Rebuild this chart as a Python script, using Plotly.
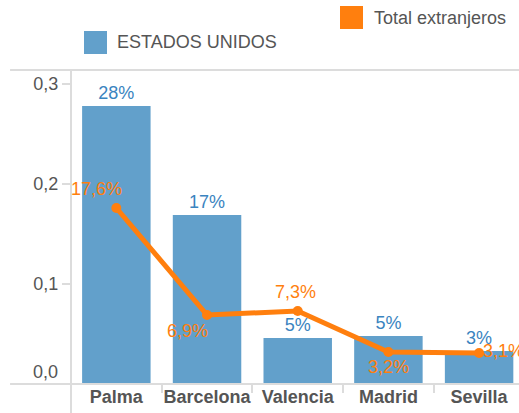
import plotly.graph_objects as go

cities = ["Palma", "Barcelona", "Valencia", "Madrid", "Sevilla"]
usa_share = [0.278, 0.169, 0.046, 0.048, 0.033]
foreign_total = [0.176, 0.069, 0.073, 0.032, 0.031]
y_ticks = [0.1, 0.2, 0.3]
y_zero_label = "0,0"

BLUE = "#62a0cb"
BLUE_TXT = "#3a84c0"
ORANGE = "#ff7f0e"
GREY = "#dcdcdc"
TXT = "#555555"
FONT = "Liberation Sans, Arial, sans-serif"
FS = 18

# pixel offsets of the line value labels relative to their points (style only)
line_label_shift = [(-20, 19), (-20, -16), (-2, 19), (0, -15), (24, 2)]

fig = go.Figure()
fig.add_trace(go.Bar(
    x=cities, y=usa_share, name="ESTADOS UNIDOS",
    marker=dict(color=BLUE, line=dict(width=0)),
    texttemplate="%{y:.0%}", textposition="outside",
    textfont=dict(color=BLUE_TXT, size=FS, family=FONT),
    cliponaxis=False,
))
fig.add_trace(go.Scatter(
    x=cities, y=foreign_total, name="Total extranjeros",
    mode="lines+markers",
    line=dict(color=ORANGE, width=5),
    marker=dict(color=ORANGE, size=10),
    cliponaxis=False,
))

annotations = []
for c, v, (dx, dy) in zip(cities, foreign_total, line_label_shift):
    annotations.append(dict(
        x=c, y=v, xref="x", yref="y", text=f"{v * 100:.1f}%".replace(".", ","),
        showarrow=False, xanchor="center", yanchor="middle", xshift=dx, yshift=dy,
        font=dict(size=FS, color=ORANGE, family=FONT),
    ))

# legend drawn as squares + text
legend_items = [
    dict(x0=0.6004, x1=0.6518, y0=1.1306, y1=1.2038, color=ORANGE, tx=0.672, ty=1.1656, text="Total extranjeros"),
    dict(x0=0.029, x1=0.0804, y0=1.051, y1=1.1242, color=BLUE, tx=0.0982, ty=1.0892, text="ESTADOS UNIDOS"),
]
shapes = []
for it in legend_items:
    shapes.append(dict(type="rect", xref="paper", yref="paper", x0=it["x0"], x1=it["x1"],
                       y0=it["y0"], y1=it["y1"], fillcolor=it["color"], line=dict(width=0)))
    annotations.append(dict(xref="paper", yref="paper", x=it["tx"], y=it["ty"], xanchor="left",
                            yanchor="middle", text=it["text"], showarrow=False,
                            font=dict(size=FS, color=TXT, family=FONT)))

# zero label sits just above the baseline
annotations.append(dict(xref="paper", yref="y", x=0, y=0, xanchor="right", yanchor="middle",
                        xshift=-11, yshift=12, text=y_zero_label, showarrow=False,
                        font=dict(size=FS, color=TXT, family=FONT)))

# frame lines
shapes += [
    dict(type="line", xref="paper", yref="paper", x0=-0.136, x1=1, y0=1, y1=1, line=dict(color=GREY, width=2)),
    dict(type="line", xref="paper", yref="paper", x0=-0.136, x1=1, y0=0, y1=0, line=dict(color=GREY, width=2)),
    dict(type="line", xref="paper", yref="paper", x0=0, x1=0, y0=-0.095, y1=1, line=dict(color=GREY, width=2)),
]

fig.update_layout(
    width=519, height=413,
    margin=dict(l=71, r=0, t=70, b=29),
    paper_bgcolor="white", plot_bgcolor="white",
    separators=",.",
    showlegend=False,
    bargap=0.245,
    font=dict(family=FONT, size=FS, color=TXT),
    shapes=shapes, annotations=annotations,
)
fig.update_xaxes(
    range=[-0.5, 4.44], showgrid=False, zeroline=False, showline=False,
    ticks="outside", tickson="boundaries", ticklen=8, tickcolor=GREY, tickwidth=2,
    tickangle=0, automargin=False,
    tickfont=dict(size=FS, color=TXT, family=FONT, weight="bold"),
)
fig.update_yaxes(
    range=[0, 0.314], tickvals=y_ticks, tickformat=".1f", showgrid=False, zeroline=False,
    showline=False, ticks="outside", ticklen=8, tickcolor=GREY, tickwidth=2,
    automargin=False,
    tickfont=dict(size=FS, color=TXT, family=FONT),
)

fig.write_html("out.html", config={"displayModeBar": False},
               post_script="document.body.style.margin='0';")
